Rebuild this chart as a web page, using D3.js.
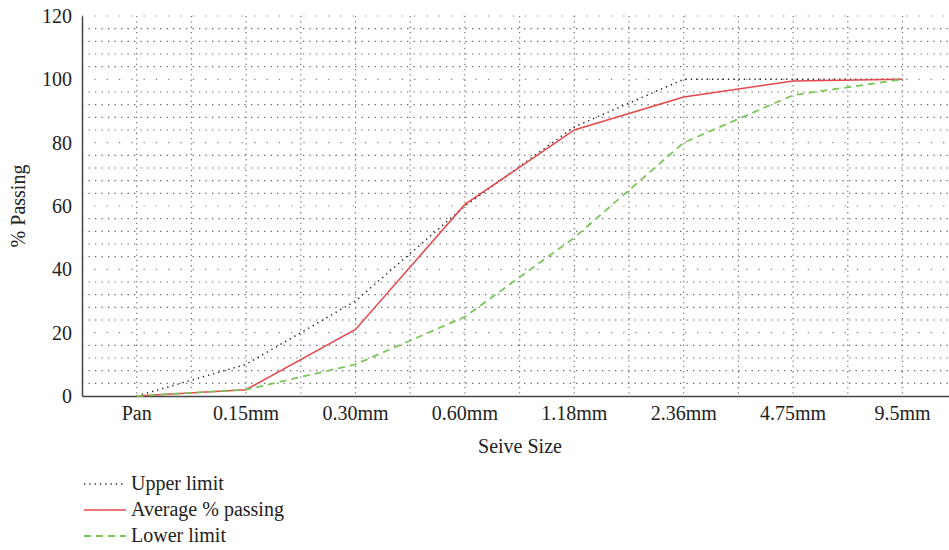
<!DOCTYPE html>
<html>
<head>
<meta charset="utf-8">
<title>Sieve analysis</title>
<style>
  body { margin: 0; background: #fff; }
  text { font-family: "Liberation Serif", "DejaVu Serif", serif; fill: #222; }
</style>
</head>
<body>
<div id="chart"></div>
<script src="https://cdn.jsdelivr.net/npm/d3@7"></script>
<script>
// sieve sizes along the x axis
var sizes = ["Pan", "0.15mm", "0.30mm", "0.60mm", "1.18mm", "2.36mm", "4.75mm", "9.5mm"];
// % passing for each size
var upperLimit = [0, 10, 30, 60, 85, 100, 100, 100];
var averagePassing = [0, 2, 21, 60.5, 84, 94.4, 99.5, 100];
var lowerLimit = [0, 2, 10, 25, 50, 80, 95, 100];
var yTicks = [0, 20, 40, 60, 80, 100, 120];

var width = 949, height = 550;
var plotLeft = 82, plotTop = 16, plotBottom = 396;
var step = 109.4;
var fontSize = "20px";

var svg = d3.select("#chart").append("svg")
  .attr("width", width)
  .attr("height", height);

var x = d3.scaleBand()
  .domain(sizes)
  .range([plotLeft, plotLeft + step * sizes.length])
  .paddingInner(0).paddingOuter(0);

var y = d3.scaleLinear()
  .domain([0, 120])
  .range([plotBottom, plotTop]);

function cx(d) { return x(d) + x.bandwidth() / 2; }

// horizontal grid, minor every 4, major every 20
var grid = svg.append("g");
d3.range(4, 121, 4).forEach(function(v) {
  var major = v % 20 === 0;
  grid.append("line")
    .attr("x1", plotLeft).attr("x2", width)
    .attr("y1", y(v)).attr("y2", y(v))
    .attr("stroke", major ? "#888" : "#666")
    .attr("stroke-width", 1.2)
    .attr("stroke-dasharray", major ? "1.3,11" : "1.3,5.2");
});

// vertical grid at each size and halfway between
var vx = [];
sizes.forEach(function(s) {
  vx.push(x(s) + x.bandwidth() / 2);
  vx.push(x(s) + x.bandwidth());
});
vx.forEach(function(p) {
  if (p >= width) return;
  grid.append("line")
    .attr("x1", p).attr("x2", p)
    .attr("y1", plotTop).attr("y2", plotBottom)
    .attr("stroke", "#777")
    .attr("stroke-width", 1.2)
    .attr("stroke-dasharray", "1.3,4");
});

// axes
var yAxis = svg.append("g")
  .attr("transform", "translate(" + plotLeft + ",0)")
  .call(d3.axisLeft(y).tickValues(yTicks).tickSize(0).tickPadding(10));
yAxis.select(".domain").attr("stroke", "#444").attr("stroke-width", 1.5);
yAxis.selectAll("text").style("font-size", fontSize).attr("fill", "#222");

var xAxis = svg.append("g")
  .attr("transform", "translate(0," + plotBottom + ")")
  .call(d3.axisBottom(x).tickSize(0).tickPadding(10));
xAxis.select(".domain").attr("stroke", "#444").attr("stroke-width", 1.5);
xAxis.selectAll("text").style("font-size", fontSize).attr("fill", "#222");

svg.append("text")
  .attr("x", 520).attr("y", 453)
  .attr("text-anchor", "middle")
  .style("font-size", fontSize)
  .text("Seive Size");

svg.append("text")
  .attr("transform", "translate(25," + ((plotTop + plotBottom) / 2) + ") rotate(-90)")
  .attr("text-anchor", "middle")
  .style("font-size", fontSize)
  .text("% Passing");

// series
var series = [
  { name: "Upper limit", values: upperLimit, color: "#222", width: 1.5, dash: "1.3,4" },
  { name: "Average % passing", values: averagePassing, color: "#e5474b", width: 1.5, dash: null },
  { name: "Lower limit", values: lowerLimit, color: "#7cc55a", width: 1.8, dash: "7,5" }
];

var line = d3.line()
  .x(function(d, i) { return cx(sizes[i]); })
  .y(function(d) { return y(d); });

series.forEach(function(s) {
  svg.append("path")
    .datum(s.values)
    .attr("d", line)
    .attr("fill", "none")
    .attr("stroke", s.color)
    .attr("stroke-width", s.width)
    .attr("stroke-dasharray", s.dash);
});

// legend
var legend = svg.append("g").attr("transform", "translate(84,484)");
series.forEach(function(s, i) {
  var g = legend.append("g").attr("transform", "translate(0," + (i * 26) + ")");
  g.append("line")
    .attr("x1", 0).attr("x2", 42)
    .attr("y1", 0).attr("y2", 0)
    .attr("stroke", s.color)
    .attr("stroke-width", s.width)
    .attr("stroke-dasharray", s.dash);
  g.append("text")
    .attr("x", 47).attr("y", 6)
    .style("font-size", fontSize)
    .text(s.name);
});
</script>
</body>
</html>
